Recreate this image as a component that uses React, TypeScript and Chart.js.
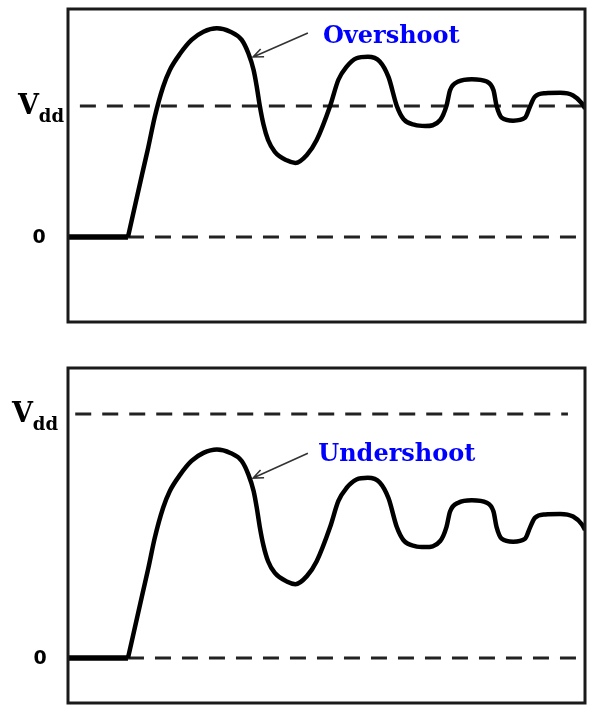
import React, { useEffect, useRef } from "react";
import { Chart, registerables } from "chart.js";

Chart.register(...registerables);

// ---------- data (time 0..100, voltage in units of Vdd) ----------
const flatT = [0, 11.6];
const flatV = [0, 0];

const timeTop = [11.6, 14.3, 15.5, 16.8, 18.4, 19.7, 21.7, 23.9, 26.2, 28.8, 31.4, 33.6, 34.9, 35.9, 36.5, 37.1, 37.8, 38.7, 40.0, 42.3, 44.0, 46.2, 48.1, 50.7, 52.3, 53.9, 55.8, 58.0, 60.3, 62.0, 63.6, 64.9, 67.1, 69.1, 72.0, 73.2, 73.9, 75.5, 78.1, 81.0, 82.3, 82.9, 83.9, 86.1, 88.4, 89.4, 90.3, 92.3, 95.2, 97.7, 99.4, 100];
const voltTop = [0, 0.473, 0.68, 0.92, 1.147, 1.275, 1.4, 1.504, 1.567, 1.593, 1.567, 1.504, 1.4, 1.275, 1.15, 1.0, 0.86, 0.74, 0.65, 0.585, 0.565, 0.626, 0.74, 1.0, 1.2, 1.3, 1.364, 1.376, 1.34, 1.22, 1.0, 0.9, 0.855, 0.847, 0.893, 1.0, 1.12, 1.186, 1.204, 1.186, 1.12, 1.0, 0.91, 0.888, 0.91, 1.0, 1.07, 1.097, 1.1, 1.08, 1.02, 0.98];

const timeBottom = [11.6, 14.3, 15.5, 16.8, 18.4, 19.7, 21.7, 23.9, 26.2, 28.8, 31.4, 33.6, 34.9, 35.9, 36.5, 37.1, 37.8, 38.7, 40.0, 42.3, 44.0, 46.2, 48.1, 50.7, 52.3, 53.9, 55.8, 58.0, 60.3, 62.0, 63.6, 64.9, 67.1, 69.1, 72.0, 73.2, 73.9, 75.5, 78.1, 81.0, 82.3, 82.9, 83.9, 86.1, 88.4, 89.4, 90.3, 92.3, 95.2, 97.7, 99.4, 100];
const voltBottom = [0, 0.254, 0.365, 0.494, 0.616, 0.685, 0.752, 0.808, 0.841, 0.855, 0.841, 0.808, 0.752, 0.685, 0.618, 0.537, 0.462, 0.397, 0.349, 0.314, 0.303, 0.336, 0.397, 0.537, 0.644, 0.698, 0.732, 0.739, 0.72, 0.655, 0.537, 0.483, 0.459, 0.455, 0.48, 0.537, 0.601, 0.637, 0.647, 0.637, 0.601, 0.537, 0.489, 0.477, 0.489, 0.537, 0.575, 0.589, 0.591, 0.58, 0.548, 0.526];

// reference levels [start time, end time]
const vddSpanTop = [2.3, 100];
const zeroSpanTop = [11.6, 100];
const vddSpanBottom = [1.4, 96.7];
const zeroSpanBottom = [11.6, 100];

const levelVdd = 1;
const levelZero = 0;

const tickLabelVdd = "V";
const tickLabelVddSub = "dd";
const tickLabelZero = "0";

const labelTop = "Overshoot";
const labelBottom = "Undershoot";
// annotation arrows: [tailT, tailV, tipT, tipV]
const arrowTop = [46.4, 1.557, 35.8, 1.374];
const arrowBottom = [46.4, 0.84, 35.8, 0.738];
// label anchors [t, v]
const labelPosTop = [49.3, 1.527];
const labelPosBottom = [48.4, 0.832];

const yRangeTop = [-0.649, 1.74];
const yRangeBottom = [-0.184, 1.189];

const zip = (t: number[], v: number[]) => t.map((x, i) => ({ x, y: v[i] }));

function makeConfig(opts: {
  time: number[];
  volt: number[];
  vddSpan: number[];
  zeroSpan: number[];
  yRange: number[];
  label: string;
  arrow: number[];
  labelPos: number[];
  padding: { left: number; right: number; top: number; bottom: number };
  vddLabelRight: number;
  zeroLabelX: number;
}) {
  const dash = [16, 11];
  const decor = {
    id: "decor",
    afterDatasetsDraw(chart: any) {
      const { ctx, chartArea } = chart;
      const xs = chart.scales.x;
      const ys = chart.scales.y;
      ctx.save();
      // frame
      ctx.strokeStyle = "#1a1a1a";
      ctx.lineWidth = 3;
      ctx.strokeRect(chartArea.left, chartArea.top, chartArea.right - chartArea.left, chartArea.bottom - chartArea.top);

      // Vdd label
      const y1 = ys.getPixelForValue(levelVdd);
      ctx.fillStyle = "#000";
      ctx.textBaseline = "alphabetic";
      ctx.font = 'bold 18px "DejaVu Serif"';
      const subW = ctx.measureText(tickLabelVddSub).width;
      ctx.textAlign = "left";
      ctx.fillText(tickLabelVddSub, opts.vddLabelRight - subW, y1 + 16);
      ctx.font = 'bold 27px "DejaVu Serif"';
      ctx.textAlign = "right";
      ctx.fillText(tickLabelVdd, opts.vddLabelRight - subW, y1 + 8);

      // 0 label
      const y0 = ys.getPixelForValue(levelZero);
      ctx.font = 'bold 19px "DejaVu Sans"';
      ctx.textAlign = "center";
      ctx.textBaseline = "middle";
      ctx.fillText(tickLabelZero, opts.zeroLabelX, y0 + 1);

      // arrow
      const ax0 = xs.getPixelForValue(opts.arrow[0]);
      const ay0 = ys.getPixelForValue(opts.arrow[1]);
      const ax1 = xs.getPixelForValue(opts.arrow[2]);
      const ay1 = ys.getPixelForValue(opts.arrow[3]);
      ctx.strokeStyle = "#333";
      ctx.lineWidth = 1.6;
      ctx.beginPath();
      ctx.moveTo(ax0, ay0);
      ctx.lineTo(ax1, ay1);
      const ang = Math.atan2(ay0 - ay1, ax0 - ax1);
      const hl = 11;
      ctx.moveTo(ax1 + hl * Math.cos(ang + 0.4), ay1 + hl * Math.sin(ang + 0.4));
      ctx.lineTo(ax1, ay1);
      ctx.lineTo(ax1 + hl * Math.cos(ang - 0.4), ay1 + hl * Math.sin(ang - 0.4));
      ctx.stroke();

      // annotation text
      ctx.fillStyle = "#0000ff";
      ctx.font = 'bold 24px "DejaVu Serif"';
      ctx.textAlign = "left";
      ctx.textBaseline = "middle";
      ctx.fillText(opts.label, xs.getPixelForValue(opts.labelPos[0]), ys.getPixelForValue(opts.labelPos[1]));
      ctx.restore();
    },
  };

  return {
    type: "line" as const,
    data: {
      datasets: [
        {
          data: zip(opts.time, opts.volt),
          borderColor: "#000",
          borderWidth: 4.5,
          pointRadius: 0,
          cubicInterpolationMode: "monotone" as const,
          fill: false,
        },
        {
          data: zip(flatT, flatV),
          borderColor: "#000",
          borderWidth: 5.5,
          pointRadius: 0,
          fill: false,
        },
        {
          data: zip(opts.vddSpan, [levelVdd, levelVdd]),
          borderColor: "#222",
          borderWidth: 3,
          borderDash: dash,
          pointRadius: 0,
          fill: false,
        },
        {
          data: zip(opts.zeroSpan, [levelZero, levelZero]),
          borderColor: "#222",
          borderWidth: 3,
          borderDash: dash,
          pointRadius: 0,
          fill: false,
        },
      ],
    },
    options: {
      animation: false as const,
      responsive: false,
      devicePixelRatio: 1,
      layout: { padding: opts.padding },
      plugins: { legend: { display: false }, tooltip: { enabled: false } },
      scales: {
        x: { type: "linear" as const, min: 0, max: 100, display: false },
        y: { type: "linear" as const, min: opts.yRange[0], max: opts.yRange[1], display: false },
      },
    },
    plugins: [decor],
  };
}

function Panel(props: { config: any; width: number; height: number; top: number }) {
  const ref = useRef<HTMLCanvasElement | null>(null);
  useEffect(() => {
    if (!ref.current) return;
    const chart = new Chart(ref.current, props.config);
    return () => chart.destroy();
  }, []);
  return (
    <canvas
      ref={ref}
      width={props.width}
      height={props.height}
      style={{ position: "absolute", left: 0, top: props.top, width: props.width, height: props.height }}
    />
  );
}

export default function App() {
  const topCfg = makeConfig({
    time: timeTop,
    volt: voltTop,
    vddSpan: vddSpanTop,
    zeroSpan: zeroSpanTop,
    yRange: yRangeTop,
    label: labelTop,
    arrow: arrowTop,
    labelPos: labelPosTop,
    padding: { left: 68, right: 4, top: 9, bottom: 23 },
    vddLabelRight: 64,
    zeroLabelX: 39,
  });
  const bottomCfg = makeConfig({
    time: timeBottom,
    volt: voltBottom,
    vddSpan: vddSpanBottom,
    zeroSpan: zeroSpanBottom,
    yRange: yRangeBottom,
    label: labelBottom,
    arrow: arrowBottom,
    labelPos: labelPosBottom,
    padding: { left: 68, right: 4, top: 23, bottom: 10 },
    vddLabelRight: 58,
    zeroLabelX: 40,
  });
  return (
    <div style={{ position: "fixed", left: 0, top: 0, width: 589, height: 713, background: "#fff" }}>
      <Panel config={topCfg} width={589} height={345} top={0} />
      <Panel config={bottomCfg} width={589} height={368} top={345} />
    </div>
  );
}
